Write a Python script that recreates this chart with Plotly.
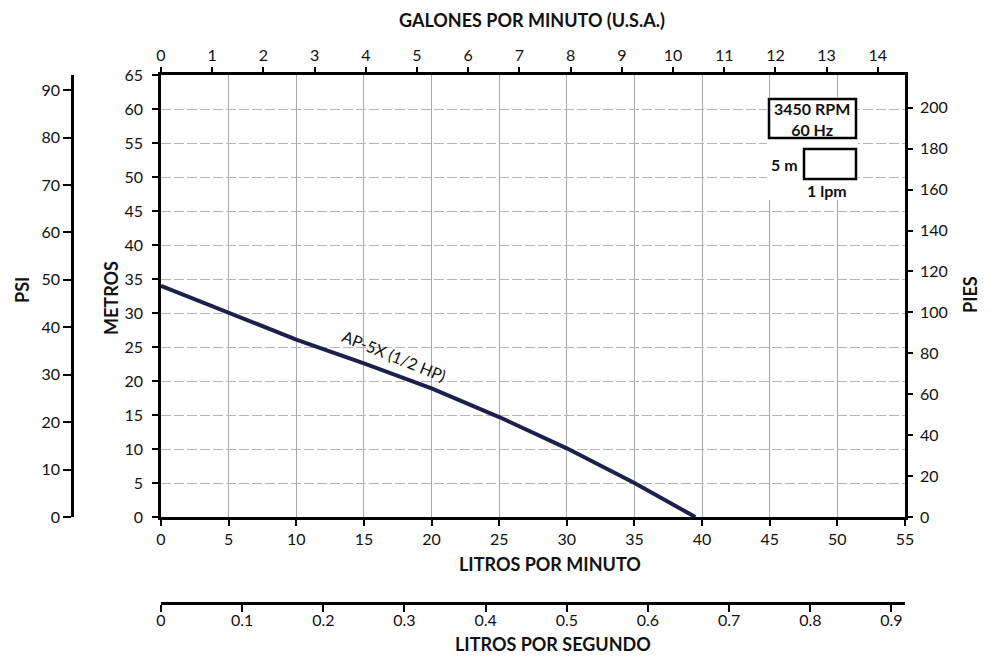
import plotly.graph_objects as go

# ---- data ----
lpm = [0, 5, 10, 15, 20, 25, 30, 35, 39.5]
metros = [34.0, 30.0, 26.1, 22.6, 18.9, 14.7, 10.1, 5.0, 0.0]
curve_name = "AP-5X (1/2 HP)"

lpm_ticks = [0, 5, 10, 15, 20, 25, 30, 35, 40, 45, 50, 55]
m_ticks = list(range(0, 66, 5))
gpm_ticks = list(range(0, 15))
lps_ticks = [0, 0.1, 0.2, 0.3, 0.4, 0.5, 0.6, 0.7, 0.8, 0.9]
lps_labels = ["0", "0.1", "0.2", "0.3", "0.4", "0.5", "0.6", "0.7", "0.8", "0.9"]
psi_ticks = list(range(0, 91, 10))
pies_ticks = list(range(0, 201, 20))

LPM_PER_GPM = 3.785
LPM_MAX = 55
M_MAX = 65

W, H = 993, 662
OFF = 8  # page body margin offset
def px(x):
    return (x - OFF) / W
def py(y):
    return 1 - (y - OFF) / H

FONT = "Lato, 'Open Sans', sans-serif"
TXT = "#111111"
tickfont = dict(family=FONT, size=16, color=TXT)

xdom = [px(161), px(905)]
ydom = [py(517), py(75)]

fig = go.Figure()
fig.add_trace(go.Scatter(x=lpm, y=metros, mode="lines",
                         line=dict(color="#1d1f4d", width=4),
                         xaxis="x", yaxis="y", hoverinfo="skip", showlegend=False))
# helper traces so every axis is drawn
for xa, ya in [("x2", "y"), ("x3", "y"), ("x", "y2"), ("x", "y3")]:
    fig.add_trace(go.Scatter(x=[0], y=[0], mode="markers", marker=dict(opacity=0),
                             xaxis=xa, yaxis=ya, hoverinfo="skip", showlegend=False))

axline = dict(showline=True, linecolor="black", linewidth=2.5, ticks="outside",
              tickcolor="black", tickwidth=1.5, tickfont=tickfont, zeroline=False,
              automargin=False)

fig.update_layout(
    width=W, height=H,
    margin=dict(l=0, r=0, t=0, b=0, pad=0, autoexpand=False),
    paper_bgcolor="white", plot_bgcolor="white",
    showlegend=False,
    xaxis=dict(domain=xdom, range=[0, LPM_MAX], anchor="y", tickvals=lpm_ticks,
               ticklen=6, showgrid=True, gridcolor="#a8a8a8", gridwidth=1, **axline),
    xaxis2=dict(domain=xdom, range=[0, LPM_MAX / LPM_PER_GPM], overlaying="x", side="top",
                anchor="y", tickvals=gpm_ticks, ticklen=5, showgrid=False, **axline),
    xaxis3=dict(domain=xdom, range=[0, LPM_MAX / 60], overlaying="x", anchor="free",
                position=py(603), side="bottom", tickvals=lps_ticks, ticktext=lps_labels,
                ticklen=7, ticklabelstandoff=-5, showgrid=False, **axline),
    yaxis=dict(domain=ydom, range=[0, M_MAX], anchor="x", tickvals=m_ticks, ticklen=6,
               ticklabelstandoff=6,
               showgrid=True, gridcolor="#b4b4b4", gridwidth=1, griddash="10px,3px", **axline),
    yaxis2=dict(domain=ydom, range=[0, 93.2], overlaying="y", anchor="free",
                position=px(72), side="left", tickvals=psi_ticks, ticklen=8,
                showgrid=False, **axline),
    yaxis3=dict(domain=ydom, range=[0, 216], overlaying="y", anchor="x", side="right",
                tickvals=pies_ticks, ticklen=5, ticklabelstandoff=4, showgrid=False, **axline),
)

def ann(x, y, text, size=18, bold=True, angle=0, **kw):
    fig.add_annotation(x=px(x), y=py(y), xref="paper", yref="paper",
                       text=f"<b>{text}</b>" if bold else text, showarrow=False,
                       textangle=angle, xanchor="center", yanchor="middle",
                       font=dict(family=FONT, size=size, color=TXT), **kw)

ann(532, 19.5, "GALONES POR MINUTO (U.S.A.)", borderpad=0)
ann(550, 564, "LITROS POR MINUTO")
ann(553, 644, "LITROS POR SEGUNDO")
ann(111, 298, "METROS", angle=-90)
ann(22, 290, "PSI", angle=-90)
ann(970, 295, "PIES", angle=-90)
ann(394, 356, curve_name, size=16, bold=False, angle=22)

# legend boxes
fig.add_shape(type="rect", xref="paper", yref="paper", x0=px(767), x1=px(858),
              y0=py(200), y1=py(97), fillcolor="white", line=dict(width=0), layer="above")
fig.add_shape(type="rect", xref="paper", yref="paper", x0=px(769), x1=px(856),
              y0=py(138), y1=py(99), line=dict(color="black", width=2.5), layer="above")
fig.add_shape(type="rect", xref="paper", yref="paper", x0=px(804), x1=px(856),
              y0=py(179), y1=py(149), line=dict(color="black", width=2.5), layer="above")
ann(812, 119, "3450 RPM<br>60 Hz", size=16)
ann(784, 164, "5 m", size=16)
ann(827, 190, "1 lpm", size=16)

fig.write_html("out.html")
